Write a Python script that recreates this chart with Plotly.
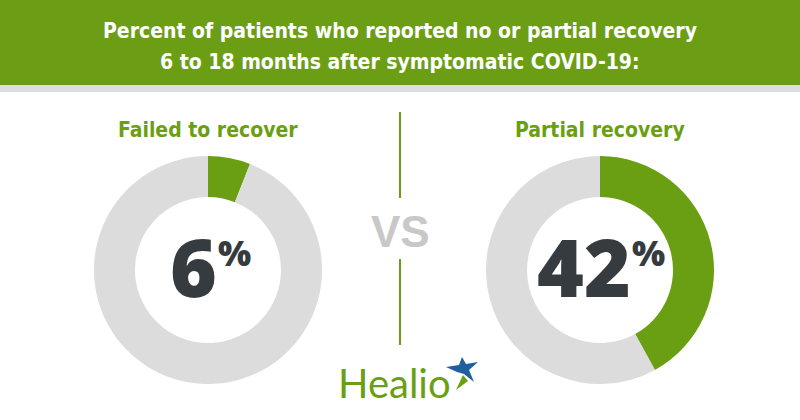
import plotly.graph_objects as go

# data
panel_labels = ["Failed to recover", "Partial recovery"]
pct_values = [6, 42]
slice_names = ["Reported", "Other"]

title_lines = [
    "Percent of patients who reported no or partial recovery",
    "6 to 18 months after symptomatic COVID-19:",
]

GREEN = "#6a9f13"
GRAY_RING = "#dcdcdc"
DARK = "#363b3f"
W, H = 800, 420
COND = "Liberation Sans Narrow, DejaVu Sans Condensed, Roboto"


def px(x):
    return x / W


def py(y):
    return 1 - y / H


def note(x, y, text, font, **kw):
    d = dict(x=px(x), y=py(y), xref="paper", yref="paper", text=text, showarrow=False,
             xanchor="center", yanchor="middle", font=font)
    d.update(kw)
    return d


centers = [(208, 270), (600, 270)]
R = 114

fig = go.Figure()

for (cx, cy), v in zip(centers, pct_values):
    fig.add_trace(go.Pie(
        values=[v, 100 - v],
        labels=slice_names,
        marker=dict(colors=[GREEN, GRAY_RING], line=dict(width=0)),
        hole=73 / 114,
        sort=False,
        direction="clockwise",
        rotation=0,
        textinfo="none",
        hoverinfo="label+value",
        domain=dict(x=[px(cx - R), px(cx + R)], y=[py(cy + R), py(cy - R)]),
        showlegend=False,
    ))

shapes = [
    # header band
    dict(type="rect", xref="paper", yref="paper", x0=0, x1=1, y0=py(85), y1=1,
         fillcolor="#6b9e14", line=dict(width=0), layer="below"),
    dict(type="rect", xref="paper", yref="paper", x0=0, x1=1, y0=py(92), y1=py(85),
         fillcolor="#dedede", line=dict(width=0), layer="below"),
    # divider lines
    dict(type="line", xref="paper", yref="paper", x0=px(400), x1=px(400), y0=py(112), y1=py(198),
         line=dict(color=GREEN, width=2)),
    dict(type="line", xref="paper", yref="paper", x0=px(400), x1=px(400), y0=py(259), y1=py(345),
         line=dict(color=GREEN, width=2)),
]


def poly(points, color):
    path = "M " + " L ".join(f"{px(x)},{py(y)}" for x, y in points) + " Z"
    return dict(type="path", xref="paper", yref="paper", path=path,
                fillcolor=color, line=dict(width=0))


# Healio star mark (rough)
shapes.append(poly([(446, 367), (459, 365), (462, 357), (466, 364), (478, 362),
                    (469, 370), (474, 382), (464, 374), (457, 372)], "#1f5fa0"))
shapes.append(poly([(456, 390), (463, 375), (468, 381)], GREEN))

annotations = []
title_font = dict(family=COND, size=21, color="white")
annotations.append(note(400, 31, "<b>" + title_lines[0] + "</b>", title_font))
annotations.append(note(400, 62, "<b>" + title_lines[1] + "</b>", title_font))

for (cx, cy), lab, v in zip(centers, panel_labels, pct_values):
    annotations.append(note(cx, 130, "<b>" + lab + "</b>", dict(family=COND, size=21, color=GREEN)))
    n = len(str(v))
    group_w = n * 44 + 30
    right = cx - group_w / 2 + n * 44 + 4
    annotations.append(note(right, cy - 5, str(v),
                            dict(family="Open Sans", size=80, color=DARK, weight=800),
                            xanchor="right"))
    annotations.append(note(right - 3, cy - 18, "%",
                            dict(family="Open Sans", size=35, color=DARK, weight=800),
                            xanchor="left"))

annotations.append(note(400, 231, "<b>VS</b>", dict(family="Liberation Sans", size=44, color="#c8c8c8")))
annotations.append(note(394, 383, "Healio", dict(family="Lato", size=40, color=GREEN)))

fig.update_layout(
    width=W, height=H,
    margin=dict(l=0, r=0, t=0, b=0),
    paper_bgcolor="white",
    plot_bgcolor="white",
    shapes=shapes,
    annotations=annotations,
)

fig.write_html("out.html", config={"displayModeBar": False},
               post_script="document.body.style.margin='0';")
